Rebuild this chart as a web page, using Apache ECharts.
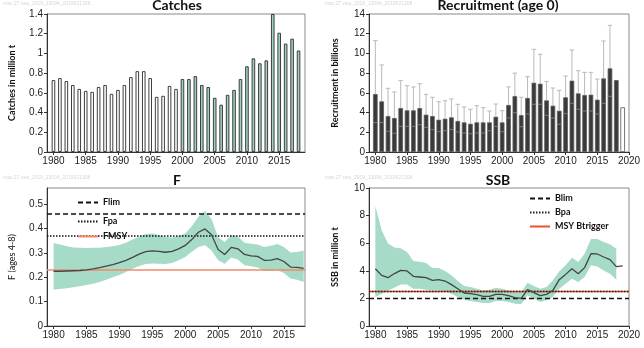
<!DOCTYPE html>
<html>
<head>
<meta charset="utf-8">
<script src="https://cdn.jsdelivr.net/npm/echarts@6/dist/echarts.min.js"></script>
<style>
  html, body { margin: 0; padding: 0; background: #fff; }
  #chart { width: 644px; height: 348px; }
</style>
</head>
<body>
<div id="chart"></div>
<script>
// ---- Stock summary data (NE Atlantic mackerel) ----
const catchYears = [1980,1981,1982,1983,1984,1985,1986,1987,1988,1989,1990,1991,1992,1993,1994,1995,1996,1997,1998,1999,2000,2001,2002,2003,2004,2005,2006,2007,2008,2009,2010,2011,2012,2013,2014,2015,2016,2017,2018];
const catches = [0.73,0.75,0.72,0.68,0.64,0.62,0.61,0.66,0.68,0.59,0.63,0.68,0.76,0.82,0.82,0.75,0.56,0.57,0.67,0.64,0.74,0.74,0.77,0.68,0.66,0.55,0.48,0.58,0.63,0.74,0.87,0.95,0.90,0.93,1.40,1.21,1.10,1.15,1.03];
const catchHighlightFrom = 2000;

const recYears = [1980,1981,1982,1983,1984,1985,1986,1987,1988,1989,1990,1991,1992,1993,1994,1995,1996,1997,1998,1999,2000,2001,2002,2003,2004,2005,2006,2007,2008,2009,2010,2011,2012,2013,2014,2015,2016,2017,2018,2019];
const recruitment = [5.88,5.14,3.65,3.45,4.46,4.23,4.23,4.46,3.79,3.65,3.28,3.38,3.52,3.15,3.01,2.87,3.01,3.01,3.01,3.58,3.01,4.77,5.68,3.75,5.48,7.03,6.93,5.24,4.70,4.19,5.55,7.24,5.95,5.78,5.82,5.31,7.47,8.49,7.30,4.53];
const recLow = [2.98,2.98,2.10,1.90,2.60,2.60,2.60,2.77,2.50,2.27,2.06,2.16,2.27,2.03,1.93,1.86,1.93,1.93,2.16,2.60,2.06,3.45,3.99,2.57,3.86,4.84,4.84,3.72,3.45,2.81,3.89,4.94,4.33,4.16,4.16,3.86,4.94,5.65];
const recHigh = [11.30,8.83,6.46,6.09,7.24,6.73,6.60,6.93,5.85,5.55,5.10,5.20,5.38,4.84,4.57,4.33,4.70,4.50,4.16,4.87,4.19,6.60,8.00,5.55,7.64,10.42,9.91,7.17,6.49,6.26,7.71,10.35,8.25,8.08,8.08,7.40,11.26,12.85];
const recOpenYear = 2019;

const fYears = [1980,1981,1982,1983,1984,1985,1986,1987,1988,1989,1990,1991,1992,1993,1994,1995,1996,1997,1998,1999,2000,2001,2002,2003,2004,2005,2006,2007,2008,2009,2010,2011,2012,2013,2014,2015,2016,2017,2018];
const fishingMortality = [0.225,0.225,0.226,0.227,0.228,0.231,0.235,0.240,0.246,0.252,0.260,0.270,0.282,0.295,0.306,0.309,0.307,0.303,0.307,0.317,0.331,0.355,0.385,0.399,0.375,0.314,0.294,0.323,0.317,0.294,0.288,0.286,0.270,0.271,0.277,0.265,0.242,0.241,0.237];
const fLow = [0.149,0.152,0.155,0.159,0.163,0.168,0.174,0.181,0.190,0.200,0.210,0.222,0.235,0.247,0.255,0.257,0.256,0.255,0.259,0.270,0.284,0.305,0.325,0.332,0.310,0.270,0.256,0.281,0.273,0.250,0.246,0.240,0.226,0.226,0.229,0.218,0.195,0.190,0.181];
const fHigh = [0.341,0.335,0.328,0.323,0.321,0.320,0.321,0.322,0.325,0.328,0.333,0.342,0.355,0.367,0.378,0.380,0.374,0.366,0.364,0.370,0.380,0.410,0.448,0.473,0.440,0.365,0.345,0.374,0.368,0.342,0.338,0.335,0.325,0.330,0.337,0.325,0.302,0.304,0.310];
const F_LIM = 0.46, F_PA = 0.37, F_MSY = 0.23;

const ssbYears = [1980,1981,1982,1983,1984,1985,1986,1987,1988,1989,1990,1991,1992,1993,1994,1995,1996,1997,1998,1999,2000,2001,2002,2003,2004,2005,2006,2007,2008,2009,2010,2011,2012,2013,2014,2015,2016,2017,2018,2019];
const ssb = [4.15,3.67,3.50,3.80,4.03,3.99,3.60,3.55,3.50,3.31,3.36,3.26,3.00,2.70,2.39,2.34,2.27,2.15,2.15,2.29,2.29,2.20,2.05,2.00,2.63,2.42,2.20,2.29,2.58,3.36,3.74,4.15,3.79,4.23,5.24,5.22,5.00,4.81,4.30,4.35];
const ssbLow = [2.10,2.34,2.58,2.78,3.00,3.00,2.70,2.70,2.63,2.58,2.58,2.54,2.34,2.10,1.91,1.81,1.74,1.67,1.67,1.81,1.81,1.74,1.62,1.57,2.22,1.98,1.74,1.86,2.10,2.70,3.07,3.43,3.19,3.55,4.40,4.32,4.03,3.79,3.36];
const ssbHigh = [8.70,6.93,5.97,5.68,5.63,5.36,4.71,4.66,4.57,4.20,4.20,3.99,3.67,3.26,2.90,2.83,2.70,2.58,2.63,2.78,2.70,2.58,2.46,2.44,3.14,2.90,2.70,2.83,3.31,3.96,4.40,4.95,4.64,5.24,6.30,6.30,6.09,5.92,5.60];
const B_LIM = 2.0, B_PA = 2.5, MSY_BTRIGGER = 2.5;

// Axis ticks
const ticksTo2015 = [1980,1985,1990,1995,2000,2005,2010,2015];
const ticksTo2020 = [1980,1985,1990,1995,2000,2005,2010,2015,2020];

const X_MIN = 1979;
const X_MAX_CATCH = 2019, X_MAX_F = 2018.2, X_MAX_WIDE = 2020;
const F_AXIS_MAX = 0.567;

const stampText = 'mac.27.nea_2019_13094_2019921308';

// ---- styles ----
const FONT = '"Liberation Sans", Arial, sans-serif';
const TITLE_FONT = 'Lato, "Open Sans", sans-serif';
const BAND = '#a6dbc7';
const TEAL_BAR = '#9fd0bd';
const INK = '#222';

const grids = [
  { left: 47, top: 14, width: 258, height: 138 },
  { left: 369, top: 14, width: 260, height: 138 },
  { left: 47, top: 188, width: 258, height: 138 },
  { left: 369, top: 188, width: 260, height: 138 }
].map(g => Object.assign(g, { show: true, borderColor: '#8a8a8a', borderWidth: 1, backgroundColor: 'transparent', containLabel: false }));

function xAxis(gridIndex, max, ticks) {
  return {
    type: 'value', gridIndex, min: X_MIN, max,
    splitLine: { show: false },
    axisLine: { show: true, onZero: false, lineStyle: { color: '#333', width: 1 } },
    axisTick: { show: true, customValues: ticks, length: 3, lineStyle: { color: '#333' } },
    axisLabel: { customValues: ticks, color: INK, fontSize: 10, fontFamily: FONT, margin: 4,
      formatter: v => String(Math.round(v)) }
  };
}
function yAxis(gridIndex, max, interval, name, bold, gap) {
  return {
    type: 'value', gridIndex, min: 0, max, interval,
    splitLine: { show: false },
    axisLine: { show: true, onZero: false, lineStyle: { color: '#333', width: 1 } },
    axisTick: { show: true, length: 3, lineStyle: { color: '#333' } },
    axisLabel: { color: INK, fontSize: 10, fontFamily: FONT, margin: 4, showMaxLabel: true },
    name, nameLocation: 'middle', nameRotate: 90, nameGap: gap,
    nameTextStyle: { fontFamily: TITLE_FONT, fontWeight: bold ? 'bold' : 'normal', fontSize: 9, color: '#111' }
  };
}

// ---- series ----
const catchBars = catchYears.map((y, i) => ({
  value: [y, catches[i]],
  itemStyle: { color: y >= catchHighlightFrom ? TEAL_BAR : '#ffffff' }
}));

const recBars = recYears.map((y, i) => ({
  value: [y, recruitment[i]],
  itemStyle: y === recOpenYear ? { color: '#ffffff', borderColor: '#555' } : {}
}));

const recErr = recLow.map((lo, i) => [recYears[i], recruitment[i], lo, recHigh[i]]);

function errorBarItem(params, api) {
  const x = api.value(0);
  const top = api.coord([x, api.value(1)]);
  const lo = api.coord([x, api.value(2)]);
  const hi = api.coord([x, api.value(3)]);
  const cap = 2.2;
  const stroke = { stroke: '#b9b9b9', lineWidth: 1 };
  return {
    type: 'group',
    children: [
      { type: 'line', shape: { x1: hi[0], y1: hi[1], x2: top[0], y2: top[1] }, style: stroke },
      { type: 'line', shape: { x1: hi[0] - cap, y1: hi[1], x2: hi[0] + cap, y2: hi[1] }, style: stroke },
      { type: 'line', shape: { x1: lo[0] - cap, y1: lo[1], x2: lo[0] + cap, y2: lo[1] }, style: { stroke: '#7d7d7d', lineWidth: 1 } }
    ]
  };
}

// Confidence band: one polygon through the upper bound, back along the lower bound
function band(idx, years, low, high) {
  const rows = low.map((lo, i) => [years[i], lo, high[i]]);
  return {
    type: 'custom', xAxisIndex: idx, yAxisIndex: idx, silent: true, z: 1,
    data: rows, encode: { x: 0, y: [1, 2] },
    renderItem: (params, api) => {
      if (params.dataIndex !== 0) return null;
      const upper = rows.map(r => api.coord([r[0], r[2]]));
      const lower = rows.map(r => api.coord([r[0], r[1]])).reverse();
      return { type: 'polygon', shape: { points: upper.concat(lower) }, style: { fill: BAND } };
    }
  };
}

function refLine(idx, name, value, xmax, style) {
  return { type: 'line', name, xAxisIndex: idx, yAxisIndex: idx, symbol: 'none', silent: true,
    data: [[X_MIN, value], [xmax, value]], lineStyle: style, itemStyle: { color: style.color }, z: style.z || 3 };
}

const legendText = { fontFamily: TITLE_FONT, fontWeight: 'bold', fontSize: 9, color: '#111' };
function legendItem(name, left, top) {
  return { data: [name], left, top, itemWidth: 20, itemHeight: 10, itemGap: 0,
    textStyle: legendText, selectedMode: false, padding: 0,
    itemStyle: { opacity: 0 } };
}

const stampStyle = { fill: '#d6d6d6', font: '5px ' + FONT };
function stamp(x, y) { return { type: 'text', x, y, style: Object.assign({ text: stampText }, stampStyle), silent: true }; }
function panelTitle(text, x, y) {
  return { type: 'text', x, y, silent: true,
    style: { text, fill: '#111', font: 'bold 14px ' + TITLE_FONT, align: 'center', verticalAlign: 'middle', textAlign: 'center', textVerticalAlign: 'middle' } };
}

const option = {
  animation: false,
  backgroundColor: '#ffffff',
  grid: grids,
  xAxis: [
    xAxis(0, X_MAX_CATCH, ticksTo2015),
    xAxis(1, X_MAX_WIDE, ticksTo2020),
    xAxis(2, X_MAX_F, ticksTo2015),
    xAxis(3, X_MAX_WIDE, ticksTo2020)
  ],
  yAxis: [
    yAxis(0, 1.4, 0.2, 'Catches in million t', true, 30),
    yAxis(1, 14, 2, 'Recruitment in billions', true, 29),
    Object.assign(yAxis(2, F_AXIS_MAX, 0.1, 'F (ages 4-8)', false, 30), {
      axisLabel: { color: INK, fontSize: 10, fontFamily: FONT, margin: 4, showMaxLabel: false,
        formatter: v => (v > 0.55 ? '' : String(+v.toFixed(1))) }
    }),
    yAxis(3, 10, 2, 'SSB in million t', true, 29)
  ],
  legend: [
    legendItem('Flim', 77, 198),
    legendItem('Fpa', 77, 217),
    legendItem('FMSY', 77, 232),
    legendItem('Blim', 529, 194),
    legendItem('Bpa', 529, 208),
    legendItem('MSY Btrigger', 529, 222)
  ],
  graphic: [
    stamp(3, 1), stamp(325, 1), stamp(3, 175), stamp(325, 175),
    panelTitle('Catches', 177, 5),
    panelTitle('Recruitment (age 0)', 498, 5),
    panelTitle('F', 177, 180),
    panelTitle('SSB', 498, 180)
  ],
  series: [
    // Catches
    { type: 'bar', xAxisIndex: 0, yAxisIndex: 0, barWidth: 3.6, data: catchBars,
      itemStyle: { borderColor: '#3f3f3f', borderWidth: 1 } },
    // Recruitment
    { type: 'bar', xAxisIndex: 1, yAxisIndex: 1, barWidth: 4.6, data: recBars,
      itemStyle: { color: '#3a3a3a', borderColor: '#5a5a5a', borderWidth: 0.8 }, z: 2 },
    { type: 'custom', xAxisIndex: 1, yAxisIndex: 1, data: recErr, renderItem: errorBarItem,
      encode: { x: 0, y: 3 }, z: 3, silent: true },
    // F
    band(2, fYears, fLow, fHigh),
    refLine(2, 'Flim', F_LIM, X_MAX_F, { color: '#111', width: 1.5, type: [5, 3] }),
    refLine(2, 'Fpa', F_PA, X_MAX_F, { color: '#111', width: 1.5, type: [1.5, 1.5] }),
    refLine(2, 'FMSY', F_MSY, X_MAX_F, { color: '#f08a6a', width: 1.3, type: 'solid' }),
    { type: 'line', xAxisIndex: 2, yAxisIndex: 2, symbol: 'none', z: 4,
      data: fYears.map((y, i) => [y, fishingMortality[i]]),
      lineStyle: { color: '#454545', width: 1.3 } },
    // SSB
    band(3, ssbYears, ssbLow, ssbHigh),
    refLine(3, 'Blim', B_LIM, X_MAX_WIDE, { color: '#111', width: 1.5, type: [5, 3] }),
    refLine(3, 'MSY Btrigger', MSY_BTRIGGER, X_MAX_WIDE, { color: '#e0552e', width: 1.3, type: 'solid', z: 3 }),
    refLine(3, 'Bpa', B_PA, X_MAX_WIDE, { color: '#222', width: 1.3, type: [1.5, 1.5], z: 4 }),
    { type: 'line', xAxisIndex: 3, yAxisIndex: 3, symbol: 'none', z: 5,
      data: ssbYears.map((y, i) => [y, ssb[i]]),
      lineStyle: { color: '#454545', width: 1.3 } }
  ]
};

const chart = echarts.init(document.getElementById('chart'), null, { renderer: 'canvas' });
chart.setOption(option);
</script>
</body>
</html>
